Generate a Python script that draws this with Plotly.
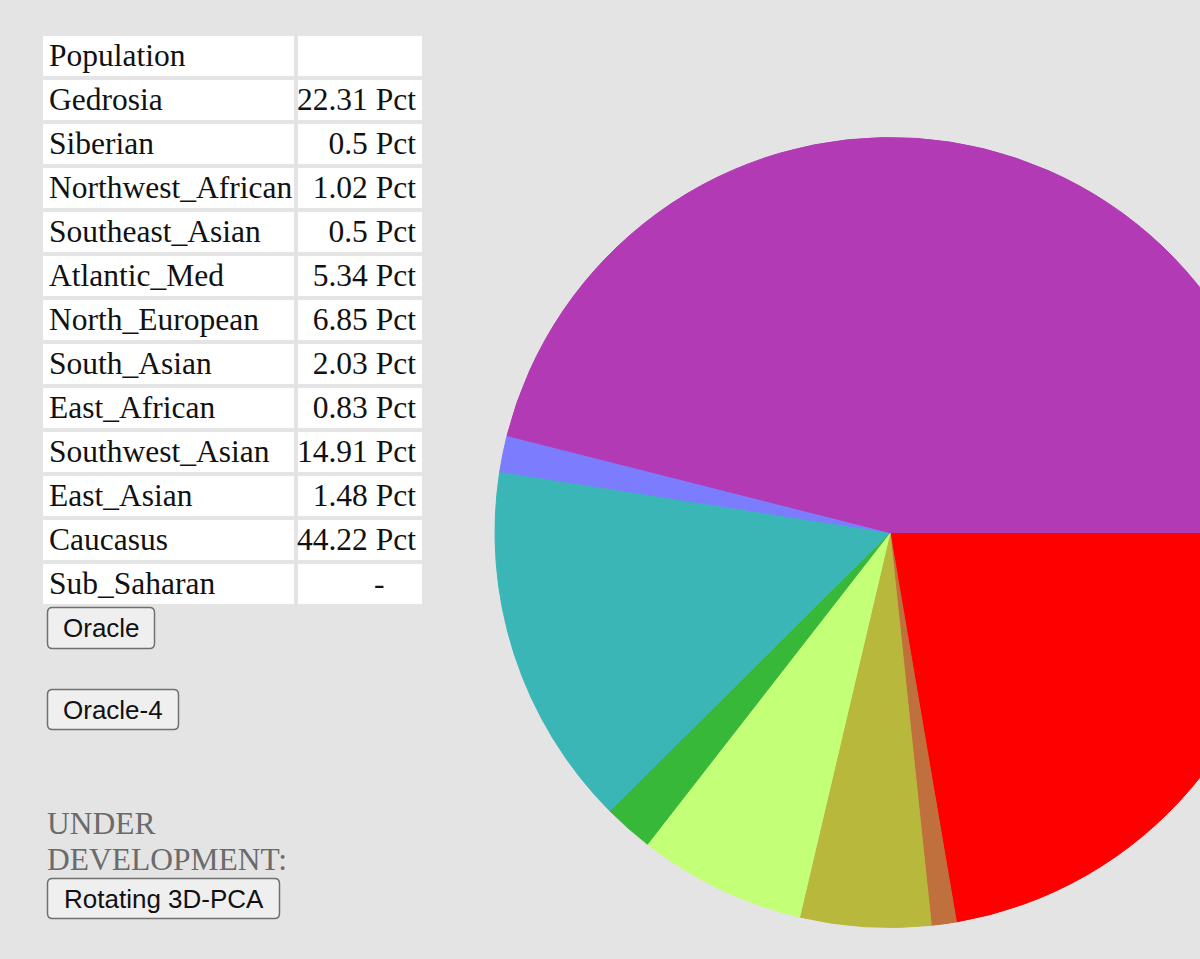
import plotly.graph_objects as go

# ---------------- data ----------------
populations = ["Gedrosia", "Siberian", "Northwest_African", "Southeast_Asian",
               "Atlantic_Med", "North_European", "South_Asian", "East_African",
               "Southwest_Asian", "East_Asian", "Caucasus", "Sub_Saharan"]
pct_values = [22.31, 0.5, 1.02, 0.5, 5.34, 6.85, 2.03, 0.83, 14.91, 1.48, 44.22, None]
pct_labels = ["22.31 Pct", "0.5 Pct", "1.02 Pct", "0.5 Pct", "5.34 Pct", "6.85 Pct",
              "2.03 Pct", "0.83 Pct", "14.91 Pct", "1.48 Pct", "44.22 Pct", "-"]

# order in which the slices are drawn (clockwise from 3 o'clock)
pie_order = ["Gedrosia", "Northwest_African", "Atlantic_Med", "North_European",
             "South_Asian", "Southwest_Asian", "East_Asian", "Caucasus",
             "Siberian", "Southeast_Asian", "East_African"]
slice_colors = {
    "Gedrosia": "#ff0000",
    "Northwest_African": "#c0703c",
    "Atlantic_Med": "#b8b83c",
    "North_European": "#c4ff78",
    "South_Asian": "#38b838",
    "Southwest_Asian": "#3bb6b6",
    "East_Asian": "#7c7cff",
    "Caucasus": "#b23ab4",
    "Siberian": "#b23ab4",
    "Southeast_Asian": "#b23ab4",
    "East_African": "#b23ab4",
}
button_labels = ["Oracle", "Oracle-4", "Rotating 3D-PCA"]
note_lines = ["UNDER", "DEVELOPMENT:"]

# ---------------- layout constants ----------------
W, H = 1290, 959
BG = "#e4e4e4"
SERIF = "Liberation Serif, Times New Roman, serif"
SANS = "Liberation Sans, Arial, sans-serif"

value_of = dict(zip(populations, pct_values))
pie_vals = [value_of[p] for p in pie_order]
# keep each label on a single line
cell_pcts = [s.replace(" ", "\u00a0") if s != "-" else "-" + "\u00a0" * 4
             for s in pct_labels]

fig = go.Figure()

# table
fig.add_trace(go.Table(
    domain=dict(x=[41 / W, 424 / W], y=[1 - 612 / H, 1 - 34 / H]),
    columnwidth=[255, 128],
    header=dict(values=["Population", ""], fill_color="white",
                line=dict(color=BG, width=4), height=44,
                align=["left", "right"],
                font=dict(family=SERIF, size=31.5, color="#111111")),
    cells=dict(values=[populations, cell_pcts], fill_color="white",
               line=dict(color=BG, width=4), height=44,
               align=["left", "right"],
               font=dict(family=SERIF, size=31.5, color="#111111")),
))

# pie
cols = [slice_colors[p] for p in pie_order]
fig.add_trace(go.Pie(
    labels=pie_order, values=pie_vals, sort=False, direction="clockwise",
    rotation=90, textinfo="none", hoverinfo="skip", showlegend=False,
    marker=dict(colors=cols, line=dict(width=1, color=cols)),
    domain=dict(x=[495 / W, 1285 / W], y=[1 - 928 / H, 1 - 137 / H]),
))


def px(x):
    return x / W


def py(y):
    return 1 - y / H


def rounded_rect(x0, y0, w, h, r=5):
    x1, y1 = x0 + w, y0 + h
    pts = [
        f"M {px(x0 + r)},{py(y0)}",
        f"L {px(x1 - r)},{py(y0)}",
        f"Q {px(x1)},{py(y0)} {px(x1)},{py(y0 + r)}",
        f"L {px(x1)},{py(y1 - r)}",
        f"Q {px(x1)},{py(y1)} {px(x1 - r)},{py(y1)}",
        f"L {px(x0 + r)},{py(y1)}",
        f"Q {px(x0)},{py(y1)} {px(x0)},{py(y1 - r)}",
        f"L {px(x0)},{py(y0 + r)}",
        f"Q {px(x0)},{py(y0)} {px(x0 + r)},{py(y0)}",
        "Z",
    ]
    return " ".join(pts)


# buttons
buttons = [(button_labels[0], 47.5, 607.5, 107, 41),
           (button_labels[1], 47.5, 689.5, 131, 40),
           (button_labels[2], 47.5, 878.5, 232, 40)]
annotations = []
shapes = []
for lab, x0, y0, bwid, bhei in buttons:
    shapes.append(dict(type="path", xref="paper", yref="paper",
                       path=rounded_rect(x0, y0, bwid, bhei),
                       fillcolor="#efefef",
                       line=dict(color="#707070", width=1.5), layer="above"))
    annotations.append(dict(
        text=lab, xref="paper", yref="paper", x=px(x0 + bwid / 2),
        y=py(y0 + bhei / 2), xanchor="center", yanchor="middle",
        showarrow=False, borderpad=0,
        font=dict(family=SANS, size=26, color="#111111")))

for line, yc in zip(note_lines, [823, 859]):
    annotations.append(dict(
        text=line, xref="paper", yref="paper", x=px(46), y=py(yc),
        xanchor="left", yanchor="middle", showarrow=False, borderpad=0,
        font=dict(family=SERIF, size=31.5, color="#6b6b6b")))

fig.update_layout(
    width=W, height=H, autosize=False,
    margin=dict(l=0, r=0, t=0, b=0),
    paper_bgcolor=BG, plot_bgcolor=BG,
    annotations=annotations,
    shapes=shapes,
    hovermode=False,
)

fig.write_html("out.html", config={"displayModeBar": False})
